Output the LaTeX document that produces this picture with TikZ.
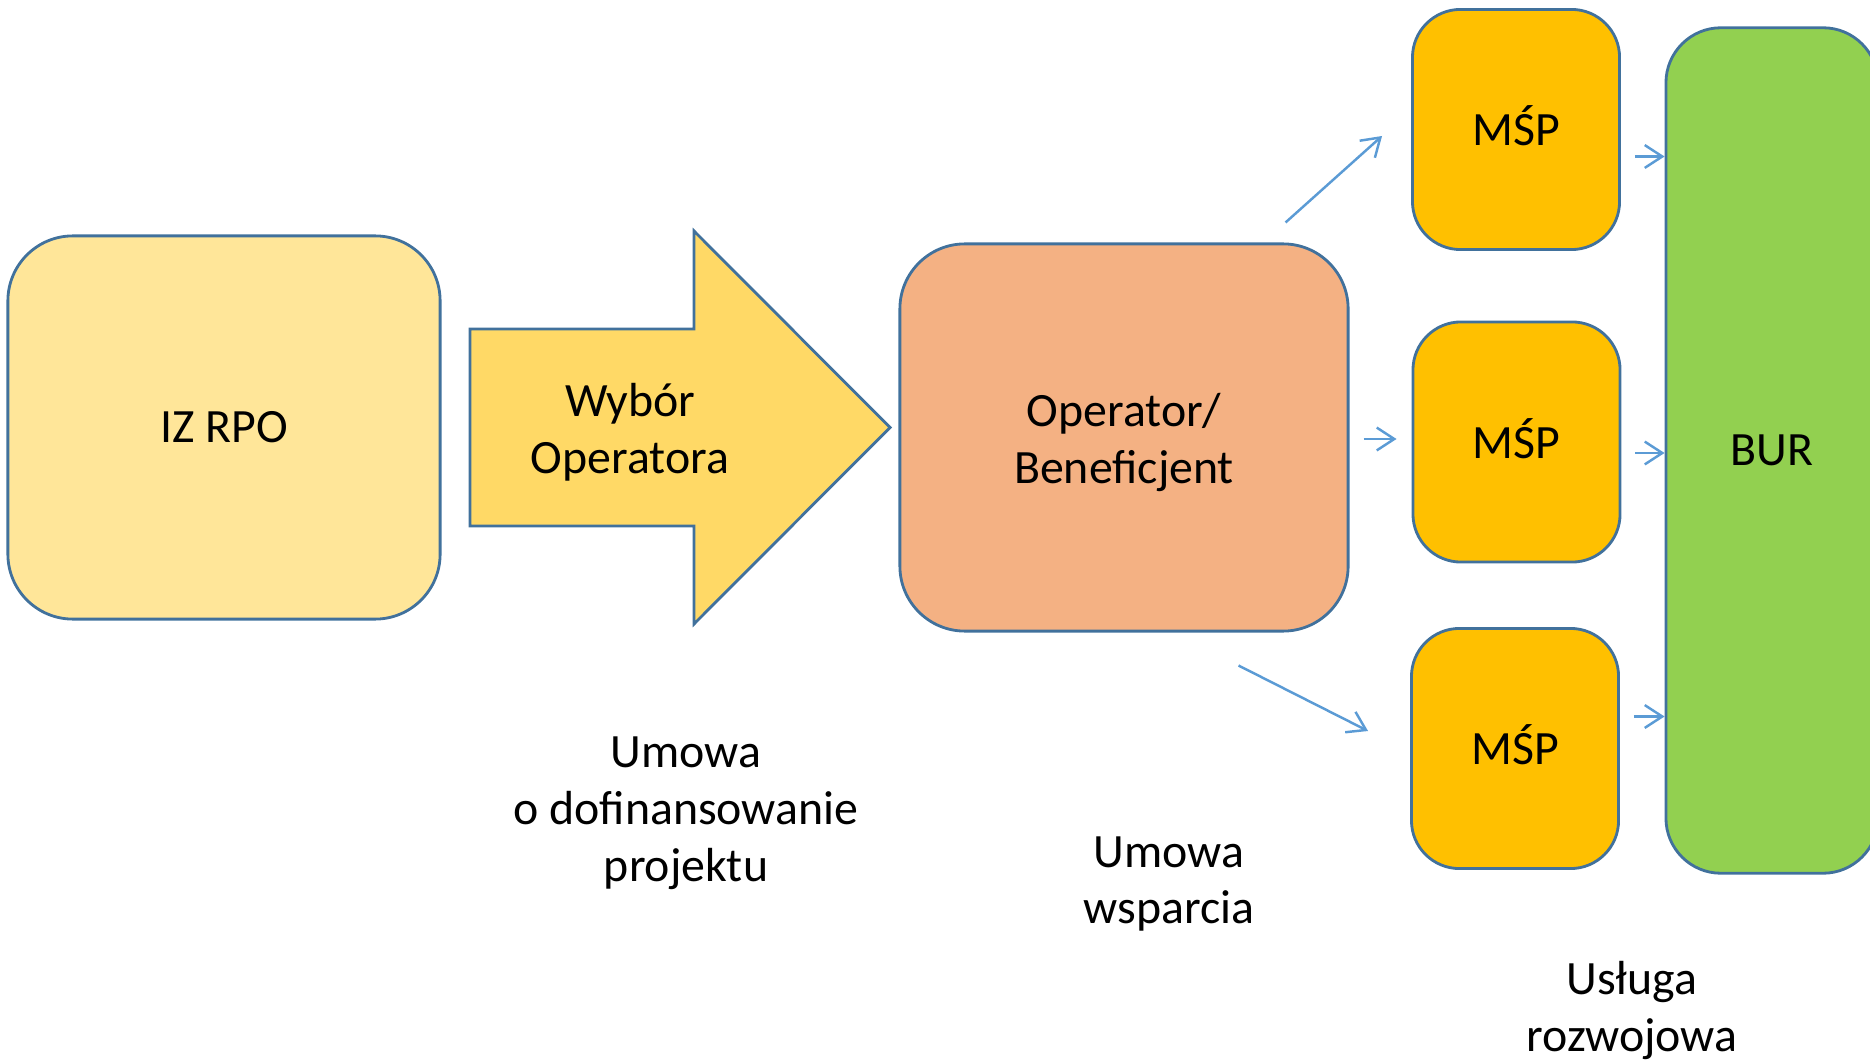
\documentclass[tikz,border=0pt]{standalone}
\usepackage{fontspec}
\setmainfont{Carlito}
\usetikzlibrary{calc,positioning,arrows.meta}
\definecolor{edge}{HTML}{41719C}
\definecolor{arrowblue}{HTML}{5B9BD5}
\definecolor{izfill}{HTML}{FFE699}
\definecolor{selfill}{HTML}{FFD966}
\definecolor{opfill}{HTML}{F4B183}
\definecolor{mspfill}{HTML}{FFC000}
\definecolor{burfill}{HTML}{92D050}
\begin{document}
\begin{tikzpicture}[x=0.01cm,y=-0.01cm,font=\fontsize{13.6}{16.2}\selectfont,
  box/.style={draw=edge, line width=0.8pt, rounded corners=0.65cm, align=center, inner sep=0pt},
  mspbox/.style={box, rounded corners=0.48cm, fill=mspfill, text depth=2pt, minimum width=2.07cm, minimum height=2.4cm},
  link/.style={draw=arrowblue, line width=0.7pt, -{Straight Barb[length=5pt,width=6.5pt]}},
  note/.style={align=center}]
  \useasboundingbox (0,0) rectangle (1870,1061);
  % left part
  \node[box, fill=izfill, minimum width=4.32cm, minimum height=3.83cm] (iz) at (224,427.5) {IZ RPO};
  \draw[draw=edge, line width=0.8pt, fill=selfill] (470,329) -- (694,329) -- (694,231) -- (890,427.5)
    -- (694,624) -- (694,526) -- (470,526) -- cycle;
  \node[note] (sel) at (630,432) {Wybór\\Operatora};
  \node[box, fill=opfill, text height=28.3pt, minimum width=4.48cm, minimum height=3.87cm] (op) at (1124,437.5) {Operator/\\Beneficjent};
  % right part
  \node[mspbox] (msp1) at (1516,129.5) {MŚP};
  \node[mspbox] (msp2) at (1516.5,442) {MŚP};
  \node[mspbox] (msp3) at (1515,748.5) {MŚP};
  \node[box, fill=burfill, rounded corners=0.55cm, minimum width=2.12cm, minimum height=8.45cm] (bur) at (1772,450.5) {BUR};
  \draw[link] ([shift={(-64,-20)}]op.north east) -- ([shift={(-29,6.5)}]msp1.west);
  \draw[link] ([shift={(14,1.5)}]op.east) -- ([shift={(-15,-3)}]msp2.west);
  \draw[link] ([shift={(-111,33)}]op.south east) -- ([shift={(-42,-17.5)}]msp3.west);
  \foreach \m/\dy in {msp1/27, msp2/11, msp3/-32} {
    \coordinate (\m-out) at ([shift={(14,\dy)}]\m.east);
    \draw[link] (\m-out) -- (\m-out -| bur.west);
  }
  % labels
  \node[note] (fund) at (686,813) {Umowa\\o dofinansowanie\\projektu};
  \node[note] (supp) at (1169,884) {Umowa\\wsparcia};
  \node[note] (serv) at (1632,1010) {Usługa\\rozwojowa};
\end{tikzpicture}
\end{document}
